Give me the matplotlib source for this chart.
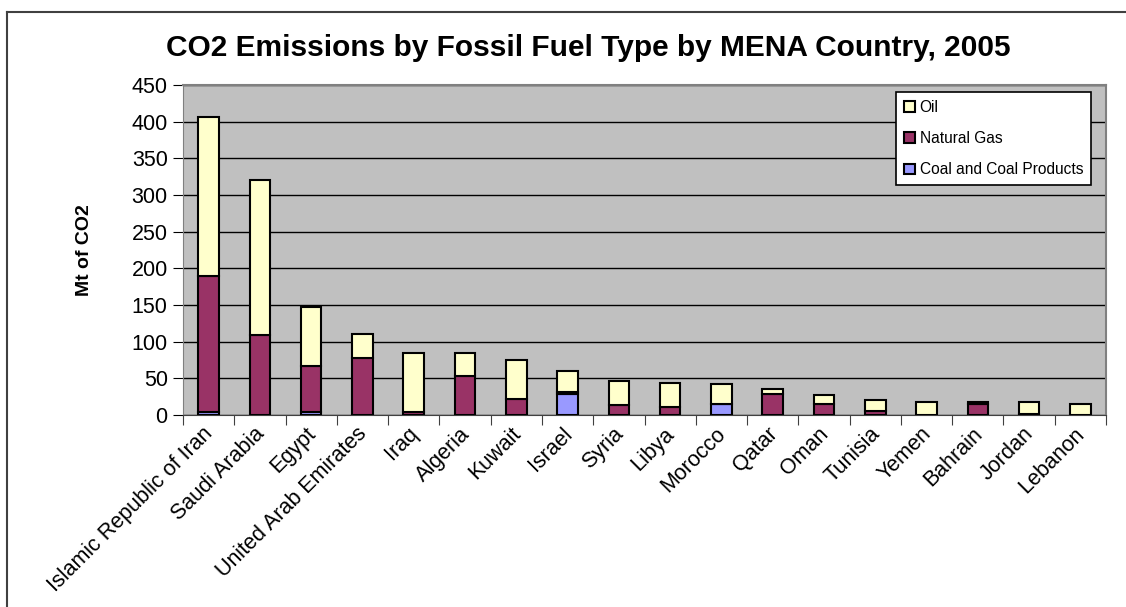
import matplotlib.pyplot as plt
import matplotlib.transforms as mtransforms
import numpy as np

countries = ['Islamic Republic of Iran', 'Saudi Arabia', 'Egypt', 'United Arab Emirates',
             'Iraq', 'Algeria', 'Kuwait', 'Israel', 'Syria', 'Libya', 'Morocco', 'Qatar',
             'Oman', 'Tunisia', 'Yemen', 'Bahrain', 'Jordan', 'Lebanon']
coal = [4, 0, 4, 0, 0, 0, 0, 28, 0, 0, 15, 0, 0, 0, 0, 0, 0, 0]
gas = [185, 109, 63, 78, 4, 53, 22, 3, 13, 11, 0, 29, 15, 6, 0, 15, 1.5, 0]
oil = [218, 211, 80, 33, 80, 31, 53, 29, 34, 33, 27, 7, 12, 14, 18, 2.5, 16, 15]

plt.rcParams['font.family'] = ['Liberation Sans', 'DejaVu Sans']

fig = plt.figure(figsize=(11.26, 6.07), dpi=100)
ax = fig.add_axes([183 / 1126, 1 - 415 / 607, (1106 - 183) / 1126, 330 / 607])

x = np.arange(len(countries))
coal = np.array(coal)
gas = np.array(gas)
oil = np.array(oil)
w = 0.4
ax.bar(x, coal, w, color='#9999FF', edgecolor='black', linewidth=1.5, label='Coal and Coal Products', zorder=3)
ax.bar(x, gas, w, bottom=coal, color='#993366', edgecolor='black', linewidth=1.5, label='Natural Gas', zorder=3)
ax.bar(x, oil, w, bottom=coal + gas, color='#FFFFCC', edgecolor='black', linewidth=1.5, label='Oil', zorder=3)

ax.set_facecolor('#C0C0C0')
ax.set_xlim(-0.5, len(countries) - 0.5)
ax.set_ylim(0, 450)
ax.set_yticks(np.arange(0, 451, 50))
ax.yaxis.grid(True, color='black', linewidth=1)
ax.set_axisbelow(True)
for s in ['top', 'right']:
    ax.spines[s].set_color('#808080')
    ax.spines[s].set_linewidth(1.5)
ax.spines['left'].set_color('#808080')
ax.spines['bottom'].set_color('#404040')
ax.tick_params(axis='y', labelsize=15.5, length=7, direction='out', pad=4)
ax.set_xticks(np.arange(-0.5, len(countries), 1))
ax.set_xticklabels([])
ax.tick_params(axis='x', length=7, direction='out', color='#404040')
ax.set_xticks(x, minor=True)
ax.set_xticklabels(countries, minor=True, rotation=45, ha='right', va='top',
                   rotation_mode='anchor', fontsize=15.5)
ax.tick_params(axis='x', which='minor', length=0, pad=6)
shift = mtransforms.ScaledTranslation(-6 / 100, 0, fig.dpi_scale_trans)
for t in ax.get_xticklabels(minor=True):
    t.set_transform(t.get_transform() + shift)

ax.set_ylabel('Mt of CO2', fontsize=14, fontweight='bold', labelpad=28)
fig.text(588 / 1126, 1 - 48 / 607, 'CO2 Emissions by Fossil Fuel Type by MENA Country, 2005',
         ha='center', va='center', fontsize=21.5, fontweight='bold')

h, l = ax.get_legend_handles_labels()
leg = ax.legend(h[::-1], l[::-1], loc='upper right', bbox_to_anchor=(1091 / 1126, 1 - 92 / 607),
                bbox_transform=fig.transFigure, fontsize=11.2, frameon=True, fancybox=False,
                edgecolor='black', facecolor='white', framealpha=1,
                handlelength=0.7, handleheight=0.7, handletextpad=0.3,
                borderaxespad=0, labelspacing=1.05, borderpad=0.5)
leg.get_frame().set_linewidth(1.2)

# chart border
fig.add_artist(plt.Line2D([7 / 1126, 7 / 1126], [0, 1 - 12 / 607], transform=fig.transFigure,
                          color='#404040', linewidth=1.5))
fig.add_artist(plt.Line2D([7 / 1126, 1], [1 - 12 / 607, 1 - 12 / 607], transform=fig.transFigure,
                          color='#404040', linewidth=1.5))

fig.savefig('out.png', dpi=100)
